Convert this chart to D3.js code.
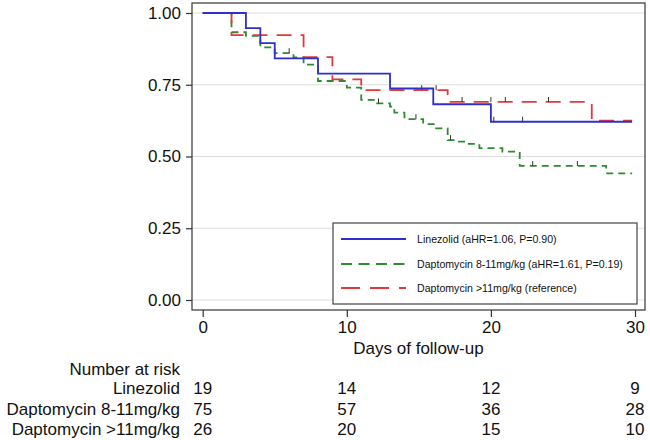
<!DOCTYPE html>
<html>
<head>
<meta charset="utf-8">
<script src="https://cdn.jsdelivr.net/npm/d3@7"></script>
<style>
  body { margin: 0; background: #fff; }
  svg { display: block; font-family: 'Liberation Sans', Arial, Helvetica, sans-serif; }
</style>
</head>
<body>
<svg id="chart" width="650" height="440"></svg>
<script>
const xTicks = [0, 10, 20, 30]
const yTicks = [0, 0.25, 0.5, 0.75, 1]

const groups = ['Linezolid', 'Daptomycin 8-11mg/kg', 'Daptomycin >11mg/kg']
const legendLabels = [
  'Linezolid (aHR=1.06, P=0.90)',
  'Daptomycin 8-11mg/kg (aHR=1.61, P=0.19)',
  'Daptomycin >11mg/kg (reference)'
]

// Kaplan-Meier steps: time (days), survival after that time
const linezolidTimes = [0, 3, 4, 5, 8, 13, 16, 20, 29.8]
const linezolidSurv = [1, 0.947, 0.895, 0.842, 0.789, 0.737, 0.682, 0.621, 0.621]
const linezolidCensor = [20.2, 22.2]

const dapLowTimes = [0, 2, 3, 4, 5, 6.3, 7, 8, 10, 11, 12, 13, 13.3, 14, 15.3, 16.2, 17, 17.5, 18.3, 19.2, 20.8, 22, 28, 29.8]
const dapLowSurv = [1, 0.933, 0.92, 0.88, 0.86, 0.845, 0.82, 0.763, 0.74, 0.697, 0.685, 0.674, 0.653, 0.63, 0.613, 0.598, 0.557, 0.552, 0.544, 0.529, 0.517, 0.467, 0.441, 0.441]
const dapLowCensor = [6, 12.2, 14.8, 17.2, 22.9, 26]

const dapHighTimes = [0, 2, 7, 9, 11, 17, 27, 29.8]
const dapHighSurv = [1, 0.923, 0.846, 0.769, 0.731, 0.69, 0.625, 0.625]
const dapHighCensor = [15.2, 16.2, 18, 20, 21, 24]

const riskTimes = [0, 10, 20, 30]
const linezolidRisk = [19, 14, 12, 9]
const dapLowRisk = [75, 57, 36, 28]
const dapHighRisk = [26, 20, 15, 10]

const colors = ['#2f2fd0', '#2e8b2e', '#e23a3a']
const dashes = [null, '7,5', '15,9']

const series = [
  { times: linezolidTimes, surv: linezolidSurv, censor: linezolidCensor, risk: linezolidRisk },
  { times: dapLowTimes, surv: dapLowSurv, censor: dapLowCensor, risk: dapLowRisk },
  { times: dapHighTimes, surv: dapHighSurv, censor: dapHighCensor, risk: dapHighRisk }
]

const frame = { left: 192, right: 645, top: 3, bottom: 310 }

const x = d3.scaleLinear().domain([0, 30]).range([202.7, 635])
const y = d3.scaleLinear().domain([0, 1]).range([300, 13])

const svg = d3.select('#chart')

// grid lines
svg.append('g')
  .selectAll('line')
  .data(yTicks)
  .join('line')
  .attr('x1', frame.left)
  .attr('x2', frame.right)
  .attr('y1', (d) => y(d))
  .attr('y2', (d) => y(d))
  .attr('stroke', '#dedede')
  .attr('stroke-width', 1)

// curves
const stepLine = d3.line()
  .x((d) => x(d[0]))
  .y((d) => y(d[1]))
  .curve(d3.curveStepAfter)

// draw order: green, red, blue on top
;[1, 2, 0].forEach((i) => {
  const s = series[i]
  const pts = s.times.map((t, k) => [t, s.surv[k]])
  svg.append('path')
    .datum(pts)
    .attr('d', stepLine)
    .attr('fill', 'none')
    .attr('stroke', colors[i])
    .attr('stroke-width', 1.8)
    .attr('stroke-dasharray', dashes[i])

  // censor marks
  const survAt = (t) => {
    let v = s.surv[0]
    s.times.forEach((tt, k) => { if (tt <= t) v = s.surv[k] })
    return v
  }
  svg.append('g')
    .selectAll('line')
    .data(s.censor)
    .join('line')
    .attr('x1', (d) => x(d))
    .attr('x2', (d) => x(d))
    .attr('y1', (d) => y(survAt(d)))
    .attr('y2', (d) => y(survAt(d)) - 5)
    .attr('stroke', '#333')
    .attr('stroke-width', 1)
})

// frame
svg.append('rect')
  .attr('x', frame.left)
  .attr('y', frame.top)
  .attr('width', frame.right - frame.left)
  .attr('height', frame.bottom - frame.top)
  .attr('fill', 'none')
  .attr('stroke', '#444')
  .attr('stroke-width', 1.3)

// y axis
const yAxis = svg.append('g')
  .attr('transform', `translate(${frame.left},0)`)
  .call(d3.axisLeft(y).tickValues(yTicks).tickFormat(d3.format('.2f')).tickSize(6).tickPadding(5))
yAxis.select('.domain').remove()
yAxis.selectAll('line').attr('stroke', '#333').attr('stroke-width', 1.2)
yAxis.selectAll('text').attr('font-size', 17).attr('fill', '#111').attr('font-family', null)

// x axis
const xAxis = svg.append('g')
  .attr('transform', `translate(0,${frame.bottom})`)
  .call(d3.axisBottom(x).tickValues(xTicks).tickSize(7).tickPadding(4))
xAxis.select('.domain').remove()
xAxis.selectAll('line').attr('stroke', '#333').attr('stroke-width', 1.2)
xAxis.selectAll('text').attr('font-size', 17).attr('fill', '#111').attr('font-family', null)

svg.append('text')
  .attr('x', (frame.left + frame.right) / 2)
  .attr('y', 354)
  .attr('text-anchor', 'middle')
  .attr('font-size', 17)
  .attr('fill', '#111')
  .text('Days of follow-up')

// legend
const legend = svg.append('g')
legend.append('rect')
  .attr('x', 333)
  .attr('y', 223)
  .attr('width', 304)
  .attr('height', 81)
  .attr('fill', '#fff')
  .attr('stroke', '#444')
  .attr('stroke-width', 1.2)

const legendRows = [239, 264, 288]
legendLabels.forEach((label, i) => {
  legend.append('line')
    .attr('x1', 341)
    .attr('x2', 406)
    .attr('y1', legendRows[i])
    .attr('y2', legendRows[i])
    .attr('stroke', colors[i])
    .attr('stroke-width', 1.8)
    .attr('stroke-dasharray', i === 1 ? '11,6.5' : dashes[i] ? '19,10' : null)
  legend.append('text')
    .attr('x', 417)
    .attr('y', legendRows[i])
    .attr('dy', '0.35em')
    .attr('font-size', 10.6)
    .attr('fill', '#111')
    .text(label)
})

// number at risk table
const labelRight = 180
svg.append('text')
  .attr('x', labelRight)
  .attr('y', 375)
  .attr('text-anchor', 'end')
  .attr('font-size', 17)
  .attr('fill', '#111')
  .text('Number at risk')

const riskRows = [394, 415, 435]
groups.forEach((g, i) => {
  svg.append('text')
    .attr('x', labelRight)
    .attr('y', riskRows[i])
    .attr('text-anchor', 'end')
    .attr('font-size', 17)
    .attr('fill', '#111')
    .text(g)
  svg.append('g')
    .selectAll('text')
    .data(series[i].risk)
    .join('text')
    .attr('x', (d, k) => x(riskTimes[k]))
    .attr('y', riskRows[i])
    .attr('text-anchor', 'middle')
    .attr('font-size', 17)
    .attr('fill', '#111')
    .text((d) => d)
})
</script>
</body>
</html>
